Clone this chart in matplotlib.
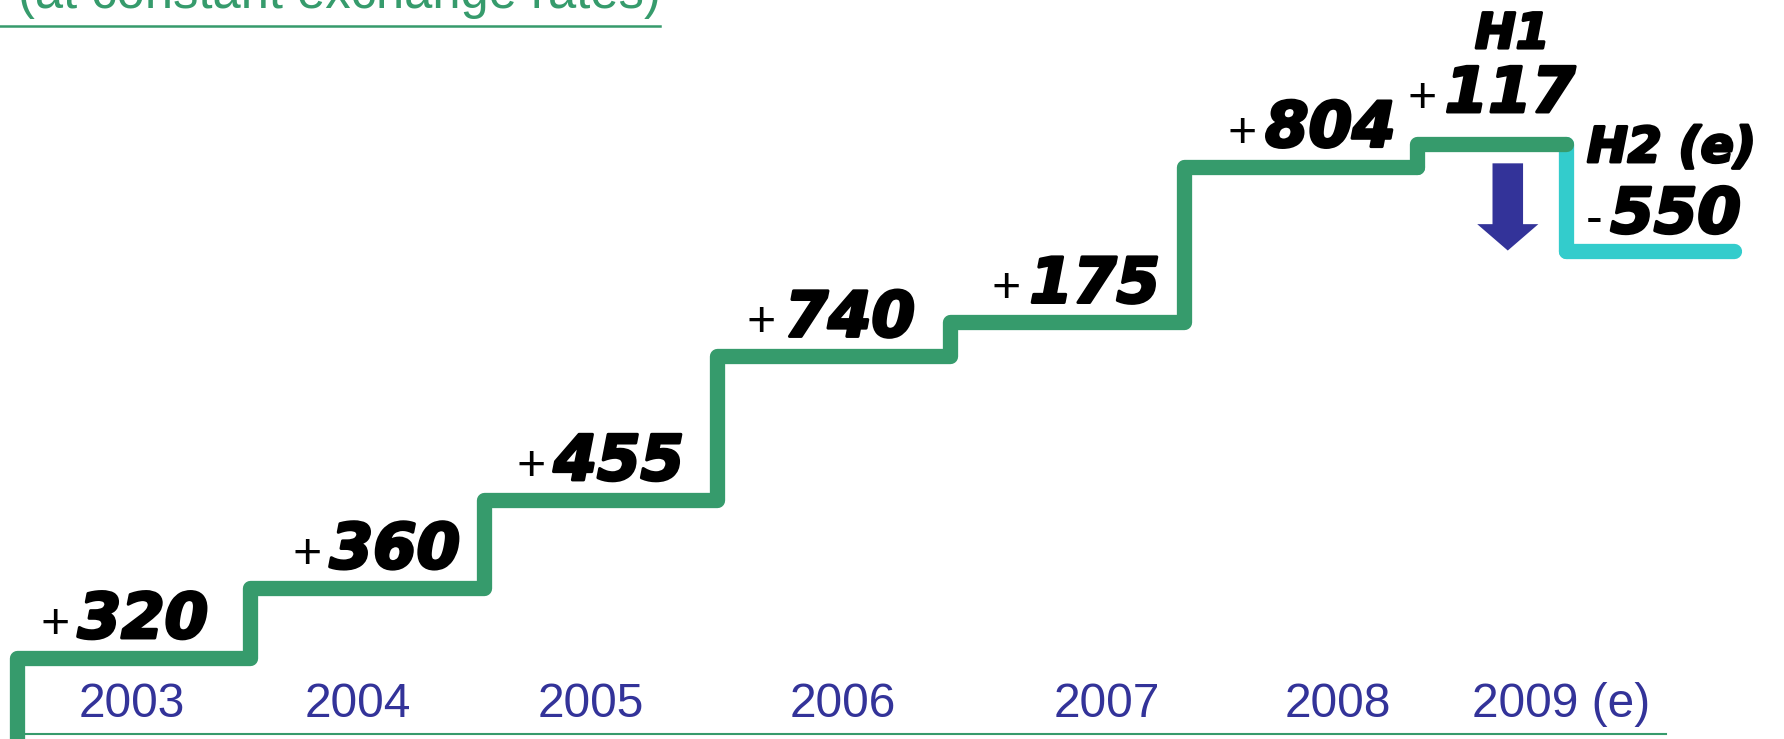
import numpy as np
import matplotlib
matplotlib.use("Agg")
import matplotlib.pyplot as plt
import matplotlib.patheffects as pe

# yearly increments (at constant exchange rates)
years = ["2003", "2004", "2005", "2006", "2007", "2008", "2009 (e)"]
increments = [320, 360, 455, 740, 175, 804]
h1_increment = 117
h2_increment = -550

# layout: x positions of captions and value labels
year_label_x = [0.49, 1.46, 2.46, 3.54, 4.67, 5.66, 6.62]
value_label_x = [0.26, 1.34, 2.30, 3.29, 4.34, 5.35]
h1_split = 6.64
h2_end = 7.36

GREEN = "#369b6c"
CYAN = "#33cccc"
NAVY = "#333399"

levels = np.cumsum(increments)
h1_level = levels[-1] + h1_increment
h2_level = h1_level + h2_increment

fig = plt.figure(figsize=(17.84, 7.39), dpi=100)
ax = fig.add_axes([0, 0, 1, 1])
ax.set_xlim(-0.073, 7.574)
ax.set_ylim(-98, 3713)
ax.axis("off")

line_kw = dict(linewidth=11, solid_capstyle="round", solid_joinstyle="round")

# staircase 2003-2008, rising from below the frame
bottom = ax.get_ylim()[0] - 50
edges = np.arange(len(increments) + 1)
xs = np.repeat(edges, 2)[:-1]
ys = np.concatenate([[bottom], np.repeat(levels, 2)])
ax.plot(xs, ys, color=GREEN, zorder=3, **line_kw)

# 2009: second half drop (drawn under the H1 step)
ax.plot([h1_split, h1_split], [h1_level, h2_level], color=CYAN, zorder=2, **line_kw)
ax.plot([h1_split, h2_end], [h2_level, h2_level], color=CYAN, zorder=2, **line_kw)

# 2009: first half step
ax.plot([edges[-1], edges[-1], h1_split], [levels[-1], h1_level, h1_level],
        color=GREEN, zorder=3, **line_kw)

# down arrow for H2
ax.annotate("", xy=(6.39, h2_level), xytext=(6.39, h1_level),
            arrowprops=dict(arrowstyle="simple,head_length=1.9,head_width=4.4,tail_width=2.2",
                            mutation_scale=10, color=NAVY, shrinkA=14, shrinkB=0,
                            linewidth=0))

heavy = [pe.withStroke(linewidth=2.2, foreground="black")]
num_font = dict(family="DejaVu Sans", weight="bold", style="oblique", size=45,
                color="black", path_effects=heavy)
head_font = dict(family="DejaVu Sans", weight="bold", style="oblique", size=35,
                 color="black", path_effects=heavy)
sign_font = dict(family="Liberation Sans", size=36, color="black")


def value_label(x, y, dy, sign, number):
    ax.annotate(number, xy=(x, y), xytext=(0, dy), textcoords="offset points",
                ha="left", va="baseline", **num_font)
    ax.annotate(sign, xy=(x, y), xytext=(-6, dy), textcoords="offset points",
                ha="right", va="baseline", **sign_font)


for x, inc, lev in zip(value_label_x, increments, levels):
    value_label(x, lev, 14.4, "+", f"{inc}")

value_label(6.12, h1_level, 23, "+", f"{h1_increment}")
value_label(6.83, h1_level, -64, "-", f"{abs(h2_increment)}")

ax.annotate("H1", xy=(6.41, h1_level), xytext=(0, 69), textcoords="offset points",
            ha="center", va="baseline", **head_font)
ax.annotate("H2 (e)", xy=(6.73, h1_level), xytext=(0, -13), textcoords="offset points",
            ha="left", va="baseline", **head_font)

# year captions and base rule
xt = ax.get_xaxis_transform()
for x, yr in zip(year_label_x, years):
    ax.text(x, 0.0298, yr, transform=xt, ha="center", va="baseline",
            family="Liberation Sans", size=34.5, color=NAVY)
ax.plot([0, 7.07], [0.0068, 0.0068], transform=xt, color=GREEN, linewidth=1.5)

# subtitle running off the top edge, with its underline
fig.text(0.010, 1 - 8 / 739, "(at constant exchange rates)", ha="left", va="baseline",
         family="Liberation Sans", size=36.5, color=GREEN)
fig.add_artist(plt.Line2D([0, 0.37], [1 - 25.5 / 739, 1 - 25.5 / 739], color=GREEN,
                          linewidth=1.8, transform=fig.transFigure))

fig.savefig("out.png", dpi=100)
